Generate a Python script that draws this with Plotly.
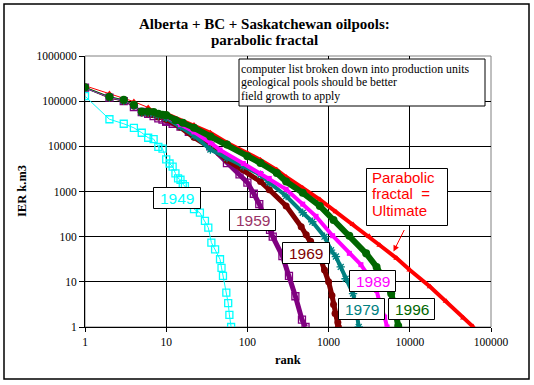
import plotly.graph_objects as go

# ---------------- data ----------------
x_tick_vals = [1, 10, 100, 1000, 10000, 100000]
x_tick_text = ["1", "10", "100", "1000", "10000", "100000"]
y_tick_vals = [1, 10, 100, 1000, 10000, 100000, 1000000]
y_tick_text = ["1", "10", "100", "1000", "10000", "100000", "1000000"]

rank_fractal = [1, 2, 4, 6, 10, 22, 35, 56, 100, 145, 230, 300, 480, 780, 1230,
                2000, 3160, 4270, 6900, 10000, 17800, 28000, 45700, 60000]
ier_fractal = [219000, 148000, 97700, 72400, 52500, 29500, 20000, 12000, 7080, 5010,
               3020, 2090, 1200, 661, 355, 186, 102, 64.6, 33.1, 18.2, 7.76, 3.72,
               1.58, 1.02]

rank_1949 = [1, 2, 3, 4, 5, 6, 7, 8, 9, 10, 11, 12, 13, 14, 15, 16, 17, 19, 22, 26,
             30, 33, 36, 40, 46, 48, 50, 55, 58, 60, 63]
ier_1949 = [129000, 39800, 31600, 25700, 20000, 15500, 14500, 9770, 8910, 5130, 4170,
            3550, 2510, 1950, 1820, 1450, 1320, 794, 407, 339, 224, 158, 74, 52.5,
            31.6, 20.4, 13.5, 5.75, 3.39, 1.86, 1.0]

rank_1959 = [1, 2, 3, 4, 5, 6, 7, 8, 9, 10, 12, 15, 19, 24, 35, 56, 80, 100, 120,
             140, 190, 205, 270, 325, 390, 470, 520]
ier_1959 = [200000, 120000, 100000, 74100, 57500, 52500, 46800, 41700, 38900, 35500,
            31600, 27500, 20900, 16600, 10000, 4270, 2400, 1580, 891, 525, 141, 100,
            37.2, 13.5, 4.79, 1.45, 1.0]

rank_1969 = [1, 2, 3, 4, 5, 6, 7, 8, 10, 15, 22, 45, 56, 89, 145, 186, 300, 460, 530,
             600, 800, 890, 1000, 1100, 1150, 1200, 1300, 1320]
ier_1969 = [195000, 117000, 100000, 77600, 55000, 52500, 50100, 44700, 39800, 26300,
            15800, 7080, 5010, 3020, 1660, 1100, 479, 166, 110, 79.4, 31.6, 18.2, 10,
            5.01, 3.16, 2.0, 1.26, 1.0]

rank_1979 = [1, 2, 3, 4, 5, 6, 7, 8, 10, 15, 22, 35, 56, 89, 145, 186, 300, 480, 630,
             890, 1070, 1230, 1410, 1620, 2000, 2200, 2350]
ier_1979 = [195000, 120000, 102000, 79400, 56200, 55000, 52500, 47900, 42700, 27500,
            17400, 8510, 5500, 3630, 2340, 1580, 794, 339, 214, 100, 50.1, 36.3, 21.4,
            11.7, 5.5, 2.34, 1.0]

rank_1989 = [1, 2, 3, 4, 5, 6, 7, 8, 10, 15, 22, 35, 46, 89, 145, 186, 300, 480, 700,
             1120, 1800, 2500, 3160, 3900, 4270, 4900, 5250]
ier_1989 = [200000, 123000, 105000, 81300, 57500, 56200, 55000, 50100, 45700, 30200,
            20900, 12000, 8320, 4170, 2510, 1950, 1120, 525, 282, 105, 42.7, 24, 12.9,
            6.46, 3.31, 1.66, 1.0]

rank_1996 = [1, 2, 3, 4, 5, 6, 7, 8, 9, 10, 13, 16, 22, 35, 56, 100, 145, 230, 300,
             480, 780, 1150, 1800, 2900, 3900, 5100, 5900, 6500, 7200]
ier_1996 = [204000, 126000, 107000, 83200, 58900, 58900, 57500, 52500, 50100, 49000,
            38000, 33100, 25700, 16600, 11000, 6030, 4270, 2570, 1660, 933, 479, 234,
            105, 42.7, 21.4, 9.12, 5.5, 2.75, 1.05]

title_lines = ["Alberta + BC + Saskatchewan oilpools:", "parabolic fractal"]

# ---------------- layout geometry ----------------
W, H = 534, 385
ML, MR, MT, MB = 85, 43, 56, 58
PW = W - ML - MR
PH = H - MT - MB


def px(x):
    return (x - ML) / PW


def py(y):
    return (MT + PH - y) / PH


SERIF = "Liberation Serif"
SANS = "Liberation Sans"

fig = go.Figure()


def add_series(ranks, vals, color, symbol, msize, thick, split_rank, open_marker=False,
               sparse_only=False):
    mk = dict(symbol=symbol, size=msize, color=color)
    if open_marker:
        mk = dict(symbol=symbol, size=msize, color=color, line=dict(color=color, width=1.3))
    if sparse_only:
        fig.add_trace(go.Scatter(x=ranks, y=vals, mode="lines+markers",
                                 line=dict(color=color, width=1), marker=mk,
                                 hoverinfo="skip"))
        return
    early_x = [r for r in ranks if r <= split_rank]
    early_y = [v for r, v in zip(ranks, vals) if r <= split_rank]
    late_x = [r for r in ranks if r >= split_rank]
    late_y = [v for r, v in zip(ranks, vals) if r >= split_rank]
    fig.add_trace(go.Scatter(x=late_x, y=late_y, mode="lines+markers",
                             line=dict(color=color, width=thick), marker=mk,
                             hoverinfo="skip"))
    fig.add_trace(go.Scatter(x=early_x, y=early_y, mode="lines+markers",
                             line=dict(color=color, width=1), marker=mk,
                             hoverinfo="skip"))


add_series(rank_fractal, ier_fractal, "#FF0000", "triangle-up", 6, 4, 10)
add_series(rank_1949, ier_1949, "#00FFFF", "square-open", 7, 1, 10, open_marker=True,
           sparse_only=True)
add_series(rank_1959, ier_1959, "#800080", "square-open", 7, 5, 10, open_marker=True)
add_series(rank_1969, ier_1969, "#800000", "circle", 7, 5, 10)
add_series(rank_1979, ier_1979, "#008080", "asterisk-open", 7, 4, 10, open_marker=True)
add_series(rank_1989, ier_1989, "#FF00FF", "square", 5, 4, 10)
add_series(rank_1996, ier_1996, "#006600", "circle", 8, 6, 10)

shapes = []
annotations = []

# outer chart border
shapes.append(dict(type="rect", xref="paper", yref="paper", x0=px(4), x1=px(529),
                   y0=py(379), y1=py(4), line=dict(color="black", width=1.5),
                   layer="below"))
# plot-area border (grey)
shapes.append(dict(type="rect", xref="paper", yref="paper", x0=0, x1=1, y0=0, y1=1,
                   line=dict(color="#808080", width=1), layer="below"))


def text_box(x0, y0, x1, y1):
    shapes.append(dict(type="rect", xref="paper", yref="paper", x0=px(x0), x1=px(x1),
                       y0=py(y1), y1=py(y0), line=dict(color="black", width=1),
                       fillcolor="white", layer="above"))


def text_at(x, y, text, color, size, family, xanchor="left"):
    annotations.append(dict(x=px(x), y=py(y), xref="paper", yref="paper", text=text,
                            showarrow=False, xanchor=xanchor, yanchor="middle",
                            font=dict(color=color, size=size, family=family)))


# title (two lines)
text_at(264, 24, "<b>" + title_lines[0] + "</b>", "black", 15, SERIF, xanchor="center")
text_at(264, 40, "<b>" + title_lines[1] + "</b>", "black", 15, SERIF, xanchor="center")

# note box
text_box(239, 59, 485, 106)
for yy, line in zip([68.5, 82, 95.5],
                    ["computer list broken down into production units",
                     "geological pools should be better",
                     "field growth to apply"]):
    text_at(238.5, yy, line, "black", 11.8, SERIF)

# year labels
labels = [
    ("1949", "#00FFFF", 153.5, 187.5, 200.5, 208.5),
    ("1959", "#993366", 229.5, 209.5, 275.5, 230.5),
    ("1969", "#800000", 282.5, 242.5, 329.5, 263.5),
    ("1979", "#008080", 338.5, 298.5, 384.5, 319.5),
    ("1989", "#FF00FF", 349.5, 270.5, 395.5, 291.5),
    ("1996", "#006600", 388.5, 298.5, 434.5, 319.5),
]
for txt, col, x0, y0, x1, y1 in labels:
    text_box(x0, y0, x1, y1)
    text_at((x0 + x1) / 2, (y0 + y1) / 2 + 0.5, txt, col, 15.5, SANS, xanchor="center")

# parabolic fractal label
text_box(366.5, 168.5, 447.5, 225.5)
for yy, line in zip([177, 193.5, 210],
                    ["Parabolic", "fractal\u00a0\u00a0=", "Ultimate"]):
    text_at(369.5, yy, line, "#FF0000", 15, SANS)

# arrow
annotations.append(dict(x=px(393.5), y=py(251.5), xref="paper", yref="paper", text="",
                        showarrow=True, ax=11.5, ay=-23, arrowhead=2, arrowsize=1.2,
                        arrowwidth=1, arrowcolor="#FF0000"))

# axis titles
text_at(288, 360, "<b>rank</b>", "black", 12.5, SERIF, xanchor="center")
annotations.append(dict(x=px(22), y=py(191), xref="paper", yref="paper",
                        text="<b>IER k.m3</b>", showarrow=False, textangle=-90,
                        xanchor="center", yanchor="middle",
                        font=dict(color="black", size=12.5, family=SERIF)))

fig.update_layout(
    width=W, height=H,
    margin=dict(l=ML, r=MR, t=MT, b=MB, pad=0),
    paper_bgcolor="white", plot_bgcolor="white",
    showlegend=False,
    shapes=shapes,
    annotations=annotations,
)
fig.update_xaxes(type="log", range=[0, 5], tickvals=x_tick_vals, ticktext=x_tick_text,
                 showgrid=True, gridcolor="black", gridwidth=1,
                 showline=True, linecolor="black", linewidth=1,
                 ticks="outside", ticklen=4, tickcolor="black",
                 tickfont=dict(family=SERIF, size=11.5, color="black"), zeroline=False)
fig.update_yaxes(type="log", range=[0, 6], tickvals=y_tick_vals, ticktext=y_tick_text,
                 showgrid=True, gridcolor="black", gridwidth=1,
                 showline=True, linecolor="black", linewidth=1,
                 ticks="outside", ticklen=5, tickcolor="black",
                 tickfont=dict(family=SERIF, size=11.5, color="black"), zeroline=False)

fig.write_html("out.html", config={"displayModeBar": False},
               post_script="document.body.style.margin='0px';")
